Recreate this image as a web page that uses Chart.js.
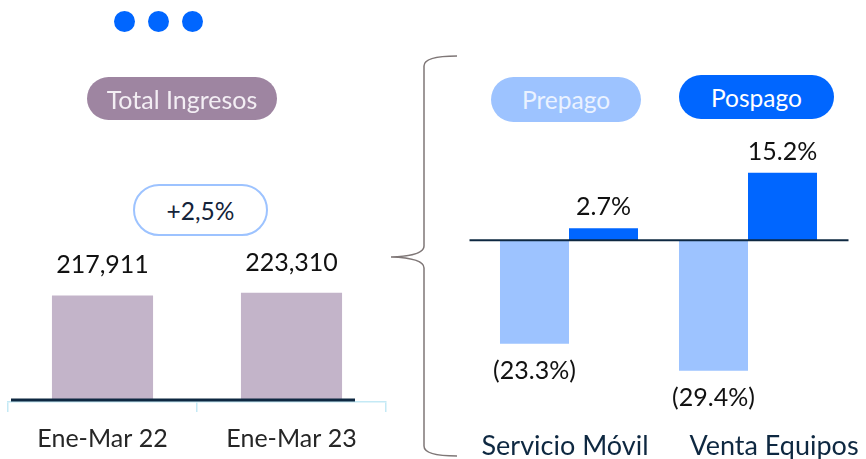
<!DOCTYPE html>
<html>
<head>
<meta charset="utf-8">
<script src="https://cdn.jsdelivr.net/npm/chart.js@4.4.1/dist/chart.umd.min.js"></script>
<style>
  html, body { margin: 0; padding: 0; background: #fff; }
  body { width: 866px; height: 459px; overflow: hidden; position: relative; font-family: Lato, sans-serif; }
  .dot { position: absolute; top: 11px; width: 21px; height: 21px; border-radius: 50%; background: #0066ff; }
  .pill { position: absolute; box-sizing: border-box; display: flex; align-items: center; justify-content: center; font-size: 24.5px; z-index: 2; }
  .wrap { position: absolute; top: 0; z-index: 1; }
  #brace { position: absolute; left: 0; top: 0; z-index: 1; }
</style>
</head>
<body>

<div class="dot" style="left:114px"></div>
<div class="dot" style="left:148px"></div>
<div class="dot" style="left:182px"></div>

<div class="pill" style="left:87px;top:77px;width:190px;height:43px;border-radius:22px;background:#9e85a1;color:#f3eef4;font-size:25px">Total Ingresos</div>
<div class="pill" style="left:133px;top:184px;width:135px;height:52px;border-radius:26px;border:2px solid #9dc3ff;background:#fff;color:#14233a">+2,5%</div>
<div class="pill" style="left:491px;top:77px;width:150px;height:45px;border-radius:23px;background:#9dc3ff;color:#eaf2ff">Prepago</div>
<div class="pill" style="left:679px;top:75px;width:155px;height:44px;border-radius:22px;background:#0066ff;color:#fff">Pospago</div>

<svg id="brace" width="866" height="459">
  <path d="M457,56 Q424,56 424,66 L424,246 Q424,256 391,257 Q424,258 424,268 L424,446 Q424,456 457,456"
        fill="none" stroke="#7f7777" stroke-width="1.5"/>
</svg>

<div class="wrap" style="left:0;width:400px;height:480px"><canvas id="ingresosChart"></canvas></div>
<div class="wrap" style="left:440px;width:426px;height:459px"><canvas id="segmentosChart"></canvas></div>

<script>
// Data
const periodos = ['Ene-Mar 22', 'Ene-Mar 23'];
const ingresos = [217911, 223310];

const segmentos = ['Servicio Móvil', 'Venta Equipos'];
const prepago = [-23.3, -29.4];
const pospago = [2.7, 15.2];

Chart.defaults.font.family = 'Lato';

// dark zero line drawn over the bars
function zeroLine(id, extLeft, extRight, width) {
    return {
        id: id,
        afterDatasetsDraw(chart) {
            const area = chart.chartArea;
            const y = chart.scales.y.getPixelForValue(0);
            const ctx = chart.ctx;
            ctx.save();
            ctx.strokeStyle = '#0e2841';
            ctx.lineWidth = width;
            ctx.beginPath();
            ctx.moveTo(area.left + extLeft, y);
            ctx.lineTo(area.right + extRight, y);
            ctx.stroke();
            ctx.restore();
        }
    };
}

// value labels above / below each bar
function barLabels(id, format, up, down) {
    return {
        id: id,
        afterDatasetsDraw(chart) {
            const ctx = chart.ctx;
            ctx.save();
            ctx.font = '25px Lato';
            ctx.fillStyle = '#111';
            ctx.textAlign = 'center';
            ctx.textBaseline = 'middle';
            chart.data.datasets.forEach((ds, i) => {
                chart.getDatasetMeta(i).data.forEach((bar, j) => {
                    const v = ds.data[j];
                    const y = v >= 0 ? bar.y - up : bar.y + down;
                    ctx.fillText(format(v), bar.x, y);
                });
            });
            ctx.restore();
        }
    };
}

// category names under the right chart (text boxes sit a bit off-centre in the original)
const segmentLabels = {
    id: 'segmentLabels',
    afterDraw(chart) {
        const x = chart.scales.x;
        const shift = [-4, 26];
        const ctx = chart.ctx;
        ctx.save();
        ctx.font = '27px Lato';
        ctx.fillStyle = '#0e2841';
        ctx.textAlign = 'center';
        ctx.textBaseline = 'alphabetic';
        chart.data.labels.forEach((lab, i) => {
            ctx.fillText(lab, x.getPixelForTick(i) + shift[i], 455);
        });
        ctx.restore();
    }
};

new Chart(document.getElementById('ingresosChart'), {
    type: 'bar',
    data: {
        labels: periodos,
        datasets: [{
            data: ingresos,
            backgroundColor: '#c3b4c9',
            barPercentage: 0.535,
            categoryPercentage: 1
        }]
    },
    options: {
        responsive: true,
        maintainAspectRatio: false,
        animation: false,
        layout: { padding: { left: 8, right: 14, top: 160, bottom: 14 } },
        plugins: { legend: { display: false }, tooltip: { enabled: false } },
        scales: {
            x: {
                grid: { display: true, drawOnChartArea: false, color: '#c4e9f5', lineWidth: 1.5, tickLength: 10, offset: true },
                border: { display: true, color: '#c4e9f5', width: 1.5 },
                ticks: { color: '#262626', font: { size: 25 }, padding: 12 }
            },
            y: { display: false, min: -4150, max: 500000 }
        }
    },
    plugins: [
        zeroLine('ingresosZero', 3, -31, 3),
        barLabels('ingresosLabels', v => v.toLocaleString('en-US'), 30, 30)
    ]
});

new Chart(document.getElementById('segmentosChart'), {
    type: 'bar',
    data: {
        labels: segmentos,
        datasets: [{
            label: 'Prepago',
            data: prepago,
            backgroundColor: '#9dc3ff',
            barPercentage: 1,
            categoryPercentage: 0.771
        }, {
            label: 'Pospago',
            data: pospago,
            backgroundColor: '#0066ff',
            barPercentage: 1,
            categoryPercentage: 0.771
        }]
    },
    options: {
        responsive: true,
        maintainAspectRatio: false,
        animation: false,
        layout: { padding: { left: 39.5, right: 28.5, top: 129.2, bottom: 39 } },
        plugins: { legend: { display: false }, tooltip: { enabled: false } },
        scales: {
            x: { display: false },
            y: { display: false, min: -40.5, max: 25 }
        }
    },
    plugins: [
        zeroLine('segmentosZero', -10, 11, 2),
        barLabels('segmentosLabels', v => v >= 0 ? v.toFixed(1) + '%' : '(' + Math.abs(v).toFixed(1) + '%)', 21, 27),
        segmentLabels
    ]
});
</script>
</body>
</html>
